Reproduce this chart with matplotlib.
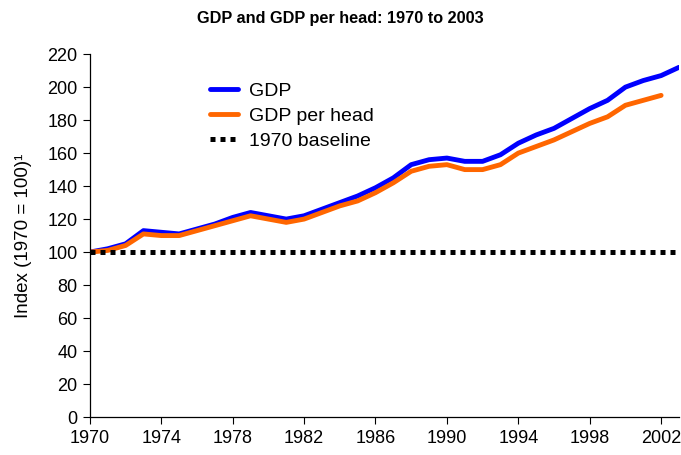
import matplotlib
matplotlib.use("Agg")
import matplotlib.pyplot as plt

plt.rcParams['font.family'] = ['Liberation Sans', 'DejaVu Sans']

years = list(range(1970, 2004))
gdp = [100, 102, 105, 113, 112, 111, 114, 117, 121, 124,
       122, 120, 122, 126, 130, 134, 139, 145, 153, 156,
       157, 155, 155, 159, 166, 171, 175, 181, 187, 192,
       200, 204, 207, 212]
gdp_per_head = [100, 101, 104, 111, 110, 110, 113, 116, 119, 122,
                120, 118, 120, 124, 128, 131, 136, 142, 149, 152,
                153, 150, 150, 153, 160, 164, 168, 173, 178, 182,
                189, 192, 195]
baseline = [100] * len(years)
xticks = list(range(1970, 2003, 4))
yticks = list(range(0, 221, 20))

fig = plt.figure(figsize=(6.81, 4.55), dpi=100)
ax = fig.add_axes([0.132, 0.0835, 0.865, 0.7975])

ax.plot(years, gdp, color='#0000ff', lw=3.5, label='GDP', solid_capstyle='round')
ax.plot(years[:len(gdp_per_head)], gdp_per_head, color='#ff6600', lw=3.5,
        label='GDP per head', solid_capstyle='round')
ax.plot(years, baseline, color='black', lw=3.6, linestyle=(0, (1, 1)),
        dash_capstyle='butt', label='1970 baseline')

ax.set_xlim(1970, 2003)
ax.set_ylim(0, 220)
ax.set_xticks(xticks)
ax.set_yticks(yticks)
ax.tick_params(axis='both', direction='out', length=5, width=0.8,
               labelsize=13, colors='black', pad=4)
for s in ['top', 'right']:
    ax.spines[s].set_visible(False)
for s in ['left', 'bottom']:
    ax.spines[s].set_linewidth(0.9)

ax.set_ylabel('Index (1970 = 100)\u00b9', fontsize=13.5, labelpad=11)
fig.text(0.5, 0.96, 'GDP and GDP per head: 1970 to 2003', ha='center',
         va='center', fontsize=11.7, fontweight='bold')

leg = ax.legend(loc='upper left', bbox_to_anchor=(0.175, 0.97), frameon=False,
                fontsize=14, handlelength=1.4, handletextpad=0.6,
                labelspacing=0.38)

fig.savefig('out.png', dpi=100)
